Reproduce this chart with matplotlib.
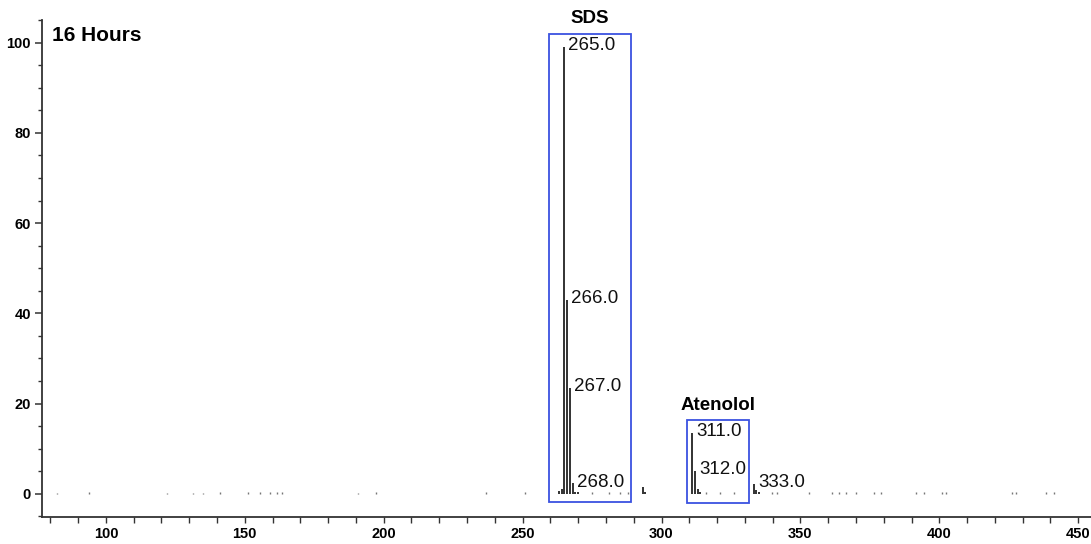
import matplotlib
matplotlib.use("Agg")
import matplotlib.pyplot as plt
from matplotlib.patches import Rectangle
from matplotlib.ticker import MultipleLocator

plt.rcParams['font.family'] = ['Liberation Sans', 'DejaVu Sans']

# main peaks (m/z, relative intensity)
peak_mz = [263, 264, 265, 266, 267, 268, 269, 270, 293.2, 294,
           311, 312, 313, 314, 333.2, 334, 335]
peak_int = [0.7, 1.0, 99.0, 43.0, 23.5, 2.3, 0.5, 0.3, 1.4, 0.4,
            13.5, 5.0, 1.0, 0.3, 2.2, 0.8, 0.3]

# tiny noise peaks near the baseline
noise_mz = [82.4, 93.9, 121.9, 131.3, 134.9, 141.0, 151.0, 155.4, 159.0, 161.5,
            163.3, 190.6, 197.1, 237.0, 251.0, 275.0, 281.0, 285.0, 288.0,
            316.0, 321.0, 326.0, 339.6, 341.4, 353.2, 361.5, 364.0, 366.5,
            370.0, 376.6, 379.1, 391.7, 394.6, 401.0, 402.5, 426.3, 427.7,
            438.5, 441.4]
noise_int = [0.2, 0.3, 0.2, 0.2, 0.2, 0.3, 0.3, 0.3, 0.3, 0.3,
             0.3, 0.2, 0.3, 0.4, 0.4, 0.3, 0.3, 0.3, 0.3,
             0.3, 0.3, 0.3, 0.3, 0.3, 0.3, 0.3, 0.3, 0.3,
             0.3, 0.3, 0.3, 0.3, 0.3, 0.3, 0.4, 0.3, 0.3,
             0.3, 0.3]

labels = ['265.0', '266.0', '267.0', '268.0', '311.0', '312.0', '333.0']
label_mz = [265, 266, 267, 268, 311, 312, 333.2]
label_int = [99.0, 43.0, 23.5, 2.3, 13.5, 5.0, 2.2]

fig, ax = plt.subplots(figsize=(10.91, 5.44), dpi=100)
fig.subplots_adjust(left=0.0385, right=1.0, top=0.963, bottom=0.05)

ax.vlines(peak_mz, 0, peak_int, color='#222222', lw=1.3)
ax.vlines(noise_mz, 0, noise_int, color='#777777', lw=1.0)

# peak annotations, a little to the right of each peak top
for lab, x, y in zip(labels, label_mz, label_int):
    ax.text(x + 1.5, y + 0.3, lab, fontsize=13.5, va='center', ha='left', color='#111111')

box_col = '#3a52e0'
ax.add_patch(Rectangle((259.5, -1.8), 29.5, 103.8, fill=False, ec=box_col, lw=1.3, zorder=3))
ax.add_patch(Rectangle((309.3, -2.0), 22.3, 18.4, fill=False, ec=box_col, lw=1.3, zorder=3))
ax.text(274.3, 103.5, 'SDS', fontsize=13.5, fontweight='bold', ha='center', va='bottom')
ax.text(320.5, 17.6, 'Atenolol', fontsize=13.5, fontweight='bold', ha='center', va='bottom')
ax.text(80.5, 101.5, '16 Hours', fontsize=15, fontweight='bold', ha='left', va='center')

ax.set_xlim(77, 454.6)
ax.set_ylim(-5.1, 105)
ax.xaxis.set_major_locator(MultipleLocator(50))
ax.xaxis.set_minor_locator(MultipleLocator(10))
ax.yaxis.set_major_locator(MultipleLocator(20))
ax.yaxis.set_minor_locator(MultipleLocator(5))

for s in ['top', 'right']:
    ax.spines[s].set_visible(False)
for s in ['left', 'bottom']:
    ax.spines[s].set_linewidth(1.3)
    ax.spines[s].set_color('#333333')

ax.tick_params(axis='y', which='major', length=5, width=1.1, labelsize=10.5, pad=3, color='#333333')
ax.tick_params(axis='y', which='minor', length=3, width=1.0, color='#333333')
ax.tick_params(axis='x', which='both', length=4, width=1.0, labelsize=10.5, pad=3, color='#333333')
for t in ax.get_xticklabels() + ax.get_yticklabels():
    t.set_fontweight('bold')

fig.savefig('out.png', dpi=100)
